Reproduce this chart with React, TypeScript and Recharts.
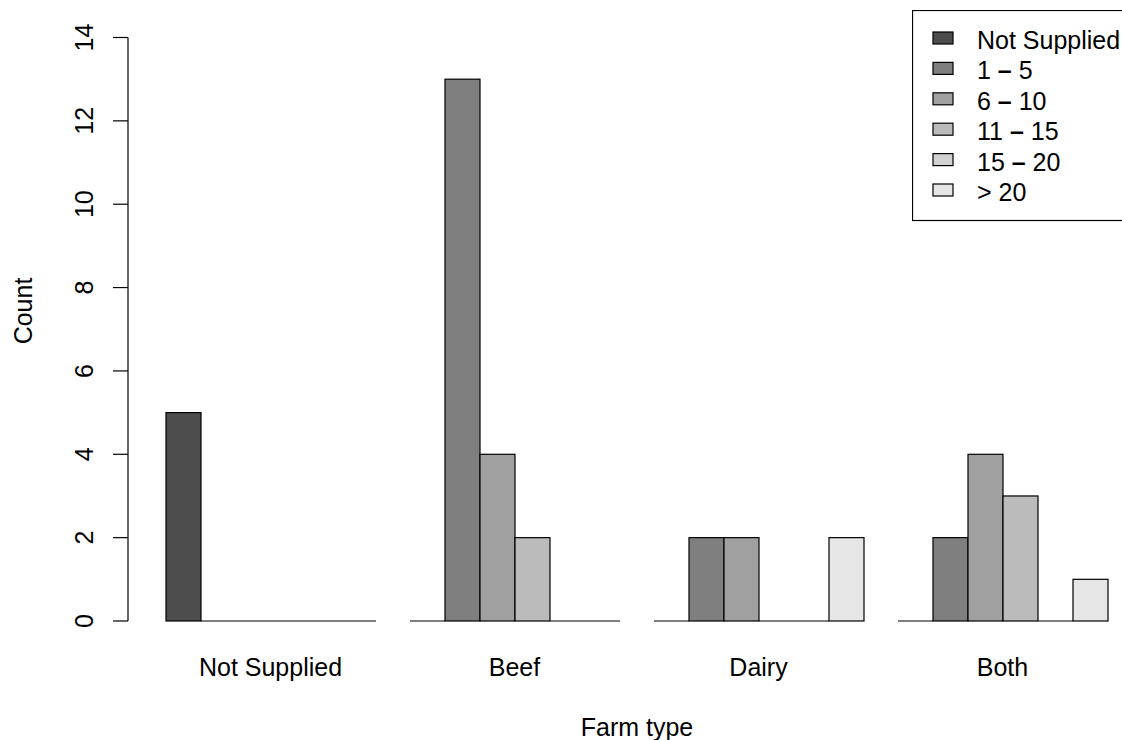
import React from 'react';
import { BarChart, Bar, XAxis, YAxis, Legend } from 'recharts';

const categories = ['Not Supplied', 'Beef', 'Dairy', 'Both'];
const seriesNames = ['Not Supplied', '1 – 5', '6 – 10', '11 – 15', '15 – 20', '> 20'];
const notSupplied = [5, 0, 0, 0];
const r1to5 = [0, 13, 2, 2];
const r6to10 = [0, 4, 2, 4];
const r11to15 = [0, 2, 0, 3];
const r15to20 = [0, 0, 0, 0];
const over20 = [0, 0, 2, 1];
const yTicks = [0, 2, 4, 6, 8, 10, 12, 14];

const greys = ['#4D4D4D', '#7F7F7F', '#A0A0A0', '#BBBBBB', '#D1D1D1', '#E6E6E6'];
const seriesKeys = ['s0', 's1', 's2', 's3', 's4', 's5'];
const seriesValues = [notSupplied, r1to5, r6to10, r11to15, r15to20, over20];

const data = categories.map((farm, i) => {
    const row: Record<string, string | number> = { farm };
    seriesKeys.forEach((k, j) => { row[k] = seriesValues[j][i]; });
    return row;
});

const FONT = '"Liberation Sans", Arial, Helvetica, sans-serif';
const FS = 25;

// R draws zero-height bars as a flat outline, so do the same
const BarShape = (props: any) => {
    const { x, y, width, height, fill } = props;
    if (!height) {
        return <line x1={x} x2={x + width} y1={y} y2={y} stroke="#000" strokeWidth={1.2} />;
    }
    return <rect x={x} y={y} width={width} height={height} fill={fill} stroke="#000" strokeWidth={1.2} />;
};

const YTick = ({ y, payload }: any) => (
    <text
        x={84} y={y} transform={`rotate(-90, 84, ${y})`}
        textAnchor="middle" dominantBaseline="central"
        fontSize={FS} fill="#000" fontFamily={FONT}
    >
        {payload.value}
    </text>
);

const XTick = ({ x, payload }: any) => (
    <text x={x} y={667} textAnchor="middle" dominantBaseline="central" fontSize={FS} fill="#000" fontFamily={FONT}>
        {payload.value}
    </text>
);

// the dash in R's legend is heavy, so draw it bold
const legendLabel = (name: string) => {
    const parts = name.split('–');
    if (parts.length < 2) return name;
    return (
        <>
            {parts[0]}<tspan fontWeight="bold">–</tspan>{parts[1]}
        </>
    );
};

const LegendBox = () => (
    <svg width={220} height={212} style={{ display: 'block' }}>
        <rect x={0.5} y={0.5} width={240} height={210} fill="#fff" stroke="#000" strokeWidth={1.2} />
        {seriesNames.map((name, i) => {
            const cy = 28 + i * 30.4;
            return (
                <g key={name}>
                    <rect x={21} y={cy - 6} width={20} height={12} fill={greys[i]} stroke="#000" strokeWidth={1.2} />
                    <text x={65} y={cy + 2} dominantBaseline="central" fontSize={FS} fill="#000" fontFamily={FONT}>
                        {legendLabel(name)}
                    </text>
                </g>
            );
        })}
    </svg>
);

export default function App() {
    return (
        <div style={{ position: 'absolute', left: 0, top: 0, width: 1122, height: 740, overflow: 'hidden', background: '#fff' }}>
            <BarChart
                width={1140} height={740} data={data}
                margin={{ top: 37.5, right: 15.5, left: 0, bottom: 59 }}
                barGap={0} barCategoryGap={17.5}
                style={{ fontFamily: FONT }}
            >
                <XAxis
                    dataKey="farm" axisLine={false} tickLine={false} height={60}
                    padding={{ left: 20.5, right: 0 }} tick={<XTick />} interval={0}
                    label={{ content: () => (
                        <text x={637} y={727} textAnchor="middle" dominantBaseline="central" fontSize={FS} fill="#000" fontFamily={FONT}>
                            Farm type
                        </text>
                    ) }}
                />
                <YAxis
                    width={128} domain={[0, 14]} ticks={yTicks} interval={0}
                    axisLine={{ stroke: '#000', strokeWidth: 1.2 }}
                    tickLine={{ stroke: '#000', strokeWidth: 1.2 }}
                    tickSize={15} tick={<YTick />}
                    label={{ content: () => (
                        <text x={23} y={311} transform="rotate(-90, 23, 311)" textAnchor="middle" dominantBaseline="central" fontSize={FS} fill="#000" fontFamily={FONT}>
                            Count
                        </text>
                    ) }}
                />
                <Legend
                    layout="horizontal" verticalAlign="middle" align="center"
                    content={<LegendBox />}
                    wrapperStyle={{ position: 'absolute', left: 912, top: 10, width: 220, height: 212 }}
                />
                {seriesKeys.map((k, j) => (
                    <Bar key={k} dataKey={k} name={seriesNames[j]} fill={greys[j]} shape={<BarShape />} isAnimationActive={false} />
                ))}
            </BarChart>
        </div>
    );
}
